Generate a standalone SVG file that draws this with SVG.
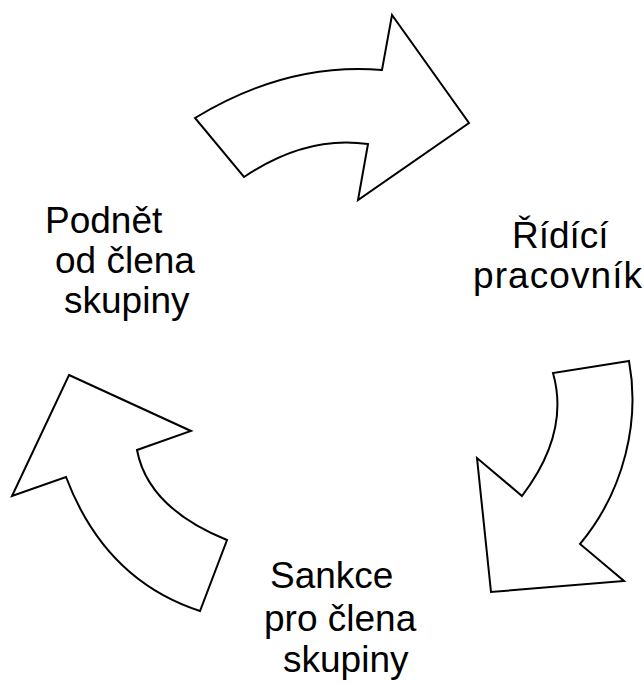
<svg xmlns="http://www.w3.org/2000/svg" width="644" height="684" viewBox="0 0 644 684">
<style>
.arrow{fill:#fff;stroke:#000;stroke-width:2;stroke-linejoin:miter}
.lbl{font-family:"Liberation Sans",Arial,sans-serif;font-size:37px;fill:#000}
</style>
<rect width="644" height="684" fill="#fff"/>
<g id="connectors">
<path id="arrow-top" class="arrow" d="M195,118 Q287,62 382,70 L392,15 L469,123 L358,200 L368,144 Q306,135 244,177 Z"/>
<path id="arrow-right" class="arrow" d="M629,361 L553,373 Q570,433 522,496 L477,458 L491,592 L624,581 L580,544 C625,490 640,420 629,361 Z"/>
<path id="arrow-left" class="arrow" d="M69,375 L191,431 L137,450 Q148,508 227,540 L200,611 Q105,580 66,477 L12,496 Z"/>
</g>
<g id="node-podnet">
<text class="lbl" x="45" y="233">Podnět</text>
<text class="lbl" x="55" y="273">od člena</text>
<text class="lbl" x="64" y="313">skupiny</text>
</g>
<g id="node-ridici">
<text class="lbl" x="512" y="248">Řídící</text>
<text class="lbl" x="473" y="288" textLength="169" lengthAdjust="spacing">pracovník</text>
</g>
<g id="node-sankce">
<text class="lbl" x="270" y="588">Sankce</text>
<text class="lbl" x="264" y="631">pro člena</text>
<text class="lbl" x="283" y="672">skupiny</text>
</g>
</svg>
